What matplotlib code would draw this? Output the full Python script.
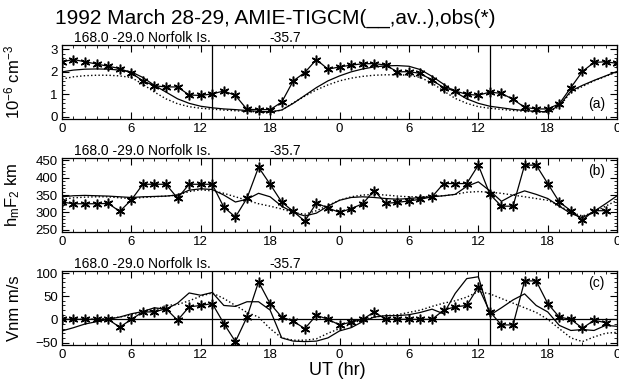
import matplotlib.pyplot as plt
import numpy as np
from matplotlib.ticker import MultipleLocator, FuncFormatter

plt.rcParams['font.family'] = ['Liberation Sans', 'DejaVu Sans']
plt.rcParams['mathtext.fontset'] = 'custom'
plt.rcParams['mathtext.rm'] = 'Liberation Sans'
plt.rcParams['mathtext.it'] = 'Liberation Sans'

hours = np.arange(49)

# (a) electron density
nm_obs = [2.45, 2.55, 2.45, 2.35, 2.25, 2.15, 1.95, 1.6, 1.38, 1.33, 1.33, 0.97, 0.95,
          1.02, 1.15, 0.95, 0.33, 0.32, 0.32, 0.65, 1.6, 1.97, 2.55, 2.12, 2.22, 2.3,
          2.36, 2.37, 2.3, 2.0, 2.01, 1.93, 1.63, 1.3, 1.15, 1.0, 0.96, 1.1, 1.04, 0.78,
          0.42, 0.35, 0.35, 0.58, 1.3, 2.02, 2.42, 2.45, 2.38]
nm_mod = [2.0, 2.08, 2.12, 2.13, 2.12, 2.08, 2.0, 1.75, 1.4, 1.1, 0.8, 0.6, 0.47, 0.4,
          0.35, 0.32, 0.28, 0.24, 0.22, 0.3, 0.6, 0.95, 1.3, 1.6, 1.82, 2.0, 2.13, 2.22,
          2.27, 2.28, 2.25, 2.1, 1.8, 1.45, 1.1, 0.8, 0.6, 0.47, 0.4, 0.33, 0.28, 0.24,
          0.22, 0.5, 1.15, 1.4, 1.62, 1.82, 2.02]
nm_av = [1.68, 1.78, 1.83, 1.85, 1.85, 1.82, 1.75, 1.45, 1.1, 0.8, 0.58, 0.45, 0.38,
         0.34, 0.3, 0.27, 0.24, 0.22, 0.2, 0.3, 0.62, 0.92, 1.2, 1.42, 1.6, 1.72, 1.8,
         1.85, 1.87, 1.87, 1.85, 1.75, 1.5, 1.15, 0.82, 0.6, 0.45, 0.38, 0.33, 0.28,
         0.25, 0.22, 0.2, 0.45, 1.1, 1.35, 1.6, 1.8, 2.0]

# (b) hmF2
hm_obs = [330, 325, 325, 325, 326, 303, 336, 381, 381, 381, 341, 381, 381, 381, 315,
          287, 341, 430, 381, 330, 303, 275, 327, 313, 300, 311, 325, 363, 326, 329,
          333, 338, 345, 383, 383, 383, 436, 352, 318, 318, 436, 436, 383, 330, 305,
          278, 305, 305]
hm_mod = [345, 348, 349, 348, 347, 345, 343, 345, 346, 347, 350, 364, 368, 366, 350,
          330, 338, 355, 345, 318, 300, 290, 298, 318, 335, 343, 345, 343, 340, 338,
          340, 343, 345, 348, 352, 375, 388, 362, 332, 350, 362, 352, 340, 318, 297,
          285, 303, 325, 348]
hm_av = [338, 342, 344, 345, 345, 342, 340, 343, 345, 347, 350, 360, 365, 362, 355,
         345, 335, 325, 318, 310, 300, 295, 305, 320, 335, 345, 350, 352, 350, 347,
         345, 345, 346, 348, 352, 358, 360, 358, 355, 350, 345, 340, 335, 320, 300,
         290, 300, 318, 335]

# (c) Vnm
vn_obs = [0, 0, 0, 0, 0, -17, 0, 16, 16, 23, -2, 27, 30, 34, -9, -48, 5, 81, 34, 5,
          -4, -20, 9, 0, -12, -6, 0, 16, 0, 0, 0, 0, 0, 20, 27, 30, 70, 16, -12, -12,
          83, 83, 34, 5, 0, -19, -2, -7]
vn_mod = [-25, -18, -10, -5, 0, 5, 12, 17, 25, 22, 35, 57, 52, 58, 30, 28, 38, 38, 20,
          -40, -47, -48, -47, -40, -25, -18, -5, 5, 8, 8, 10, 15, 22, 12, 56, 88, 92,
          9, 25, 42, 55, 30, 16, -13, -24, -22, -24, -13, -15]
vn_av = [0, 0, 0, 1, 2, 5, 10, 15, 20, 30, 32, 40, 50, 57, 45, 30, 15, 5, -20, -40,
         -45, -45, -42, -30, -20, -10, 0, 5, 8, 10, 15, 20, 28, 35, 40, 48, 60, 55, 45,
         35, 25, 15, 0, -20, -40, -48, -38, -30, -28]

title = "1992 March 28-29, AMIE-TIGCM(__,av..),obs(*)"
subtitle = "168.0 -29.0 Norfolk Is."
sublat = "-35.7"

panels = [
    (nm_obs, nm_mod, nm_av, (-0.1, 3.2), 1, 0.2, r"10$^{-6}$ cm$^{-3}$", "(a)", (46.2, 0.55)),
    (hm_obs, hm_mod, hm_av, (244, 457), 50, 10, r"h$_m$F$_2$ km", "(b)", (46.2, 418)),
    (vn_obs, vn_mod, vn_av, (-55, 105), 50, 10, "Vnm m/s", "(c)", (46.2, 78)),
]
bottoms = [0.690, 0.396, 0.102]
height = 0.193

fig = plt.figure(figsize=(6.19, 3.84), dpi=100)
fig.text(0.089, 0.952, title, fontsize=15, va='center', ha='left')

star = (6, 2, 0)
for (obs, mod, av, ylim, major, minor, ylab, tag, tagpos), b in zip(panels, bottoms):
    ax = fig.add_axes([0.1, b, 0.897, height])
    ax.plot(hours, mod, 'k-', lw=0.9)
    ax.plot(hours, av, 'k:', lw=1.0)
    ax.plot(hours[:len(obs)], obs, 'k-', lw=0.9, marker=star, ms=7, mew=1.1)
    ax.axvline(13, color='k', lw=0.9)
    ax.axvline(37, color='k', lw=0.9)
    if tag == "(c)":
        ax.axhline(0, color='k', lw=0.9)
    ax.set_xlim(0, 48)
    ax.set_ylim(*ylim)
    ax.xaxis.set_major_locator(MultipleLocator(6))
    ax.xaxis.set_minor_locator(MultipleLocator(1))
    ax.xaxis.set_major_formatter(FuncFormatter(lambda v, p: "%d" % (int(v) % 24)))
    ax.yaxis.set_major_locator(MultipleLocator(major))
    ax.yaxis.set_minor_locator(MultipleLocator(minor))
    ax.tick_params(which='both', direction='in', top=True, right=True, labelsize=9.5, pad=3)
    ax.tick_params(which='major', length=5, width=0.8)
    ax.tick_params(which='minor', length=2.5, width=0.6)
    ax.set_ylabel(ylab, fontsize=12)
    ax.yaxis.set_label_coords(-0.072, 0.5)
    ax.text(tagpos[0], tagpos[1], tag, fontsize=10, ha='center', va='center')
    ax.text(0.022, 1.09, subtitle, transform=ax.transAxes, fontsize=10, va='center')
    ax.text(0.374, 1.09, sublat, transform=ax.transAxes, fontsize=10, va='center')
    for s in ax.spines.values():
        s.set_linewidth(0.9)

fig.text(0.545, 0.036, "UT (hr)", fontsize=13, ha='center', va='center')

fig.savefig("out.png", dpi=100)
